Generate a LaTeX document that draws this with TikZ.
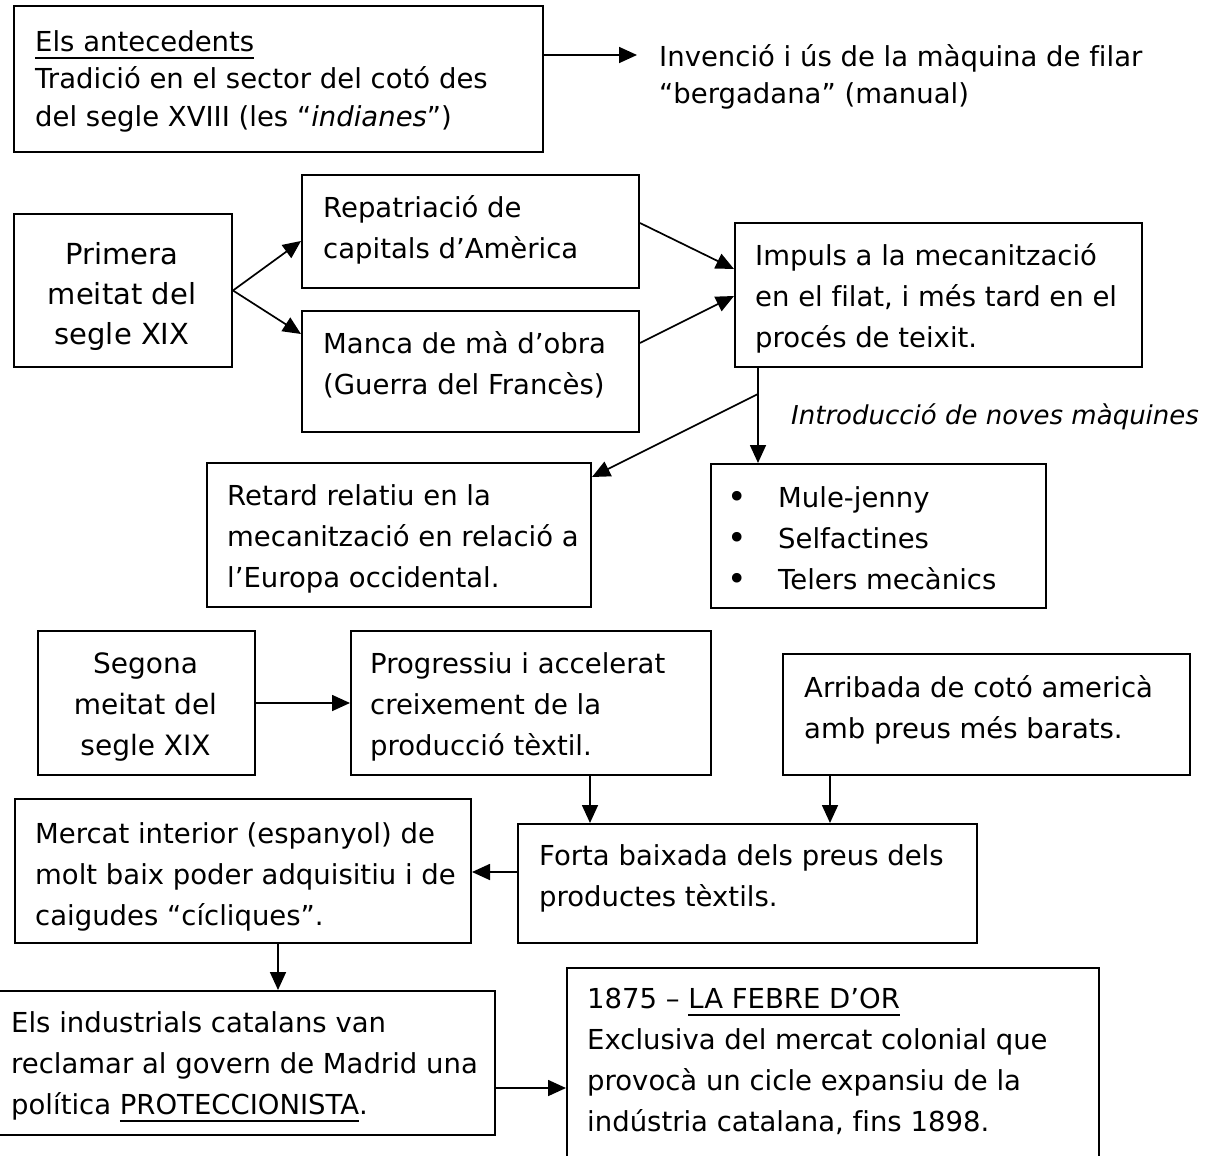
\documentclass[tikz,border=0pt]{standalone}
\usepackage{fontspec}
\setmainfont{DejaVu Sans}[Ligatures=CommonOff]
\usetikzlibrary{arrows.meta}
\newcommand\topst{\rule{0pt}{30pt}}
\newsavebox\ulbox
\newcommand\ulx[1]{\sbox\ulbox{#1}\rlap{\rule[-8pt]{\wd\ulbox}{2.2pt}}\usebox\ulbox}
\newcommand\bul{\makebox[51pt][l]{\raisebox{-1pt}{\fontsize{33}{41}\selectfont\textbullet}}}
\begin{document}
\begin{tikzpicture}[x=1pt,y=-1pt,
  bx/.style={draw,line width=2pt,inner sep=0pt,anchor=north west},
  txt/.style={inner sep=0pt,anchor=north west,align=left,font=\fontsize{27.5}{41}\selectfont},
  ctxt/.style={inner sep=0pt,anchor=north,align=center,font=\fontsize{28}{41}\selectfont},
  arr/.style={line width=1.7pt,-{Triangle[length=18pt,width=16pt]}}]
\useasboundingbox (0,0) rectangle (1210,1156);
\fill[white] (0,0) rectangle (1210,1156);
\begin{scope}
\clip (0,0) rectangle (1210,1156);
% boxes
\node[bx,minimum width=529pt,minimum height=146pt] (A) at (13,5) {};
\node[bx,minimum width=218pt,minimum height=153pt] (P) at (13,213) {};
\node[bx,minimum width=337pt,minimum height=113pt] (R) at (301,174) {};
\node[bx,minimum width=337pt,minimum height=121pt] (M) at (301,310) {};
\node[bx,minimum width=407pt,minimum height=144pt] (I) at (734,222) {};
\node[bx,minimum width=384pt,minimum height=144pt] (Re) at (206,462) {};
\node[bx,minimum width=335pt,minimum height=144pt] (Mu) at (710,463) {};
\node[bx,minimum width=217pt,minimum height=144pt] (S) at (37,630) {};
\node[bx,minimum width=360pt,minimum height=144pt] (Pg) at (350,630) {};
\node[bx,minimum width=407pt,minimum height=121pt] (Ar) at (782,653) {};
\node[bx,minimum width=459pt,minimum height=119pt] (F) at (517,823) {};
\node[bx,minimum width=456pt,minimum height=144pt] (Me) at (14,798) {};
\node[bx,minimum width=496pt,minimum height=144pt] (E) at (-2,990) {};
\node[bx,minimum width=532pt,minimum height=203pt] (L) at (566,967) {};
\end{scope}
% texts
\node[txt,font=\fontsize{27.5}{37.5}\selectfont] (At) at (35,21)
  {\topst\ulx{Els antecedents}\\Tradició en el sector del cotó des\\del segle XVIII (les “\textit{indianes}”)};
\node[txt,font=\fontsize{27.5}{37}\selectfont,inner xsep=22pt] (Bt) at (637,36)
  {\topst Invenció i ús de la màquina de filar\\“bergadana” (manual)};
\node[ctxt,font=\fontsize{29}{40}\selectfont] (Pt) at (122,234) {\topst Primera\\meitat del\\segle XIX};
\node[txt] (Rt) at (323,187) {\topst Repatriació de\\capitals d’Amèrica};
\node[txt] (Mt) at (323,323) {\topst Manca de mà d’obra\\(Guerra del Francès)};
\node[txt] (It) at (755,235) {\topst Impuls a la mecanització\\en el filat, i més tard en el\\procés de teixit.};
\node[inner sep=0pt,anchor=base west,font=\fontsize{26}{30}\selectfont\itshape] (In) at (791,424)
  {Introducció de noves màquines};
\node[txt] (Ret) at (227,475) {\topst Retard relatiu en la\\mecanització en relació a\\l’Europa occidental.};
\node[txt] (Mut) at (727,477) {\topst\bul Mule-jenny\\\bul Selfactines\\\bul Telers mecànics};
\node[ctxt] (St) at (145.5,643) {\topst Segona\\meitat del\\segle XIX};
\node[txt] (Pgt) at (370,643) {\topst Progressiu i accelerat\\creixement de la\\producció tèxtil.};
\node[txt] (Art) at (804,667) {\topst Arribada de cotó americà\\amb preus més barats.};
\node[txt] (Ft) at (539,835) {\topst Forta baixada dels preus dels\\productes tèxtils.};
\node[txt] (Met) at (35,813) {\topst Mercat interior (espanyol) de\\molt baix poder adquisitiu i de\\caigudes “cícliques”.};
\node[txt] (Et) at (11,1002) {\topst Els industrials catalans van\\reclamar al govern de Madrid una\\política \ulx{PROTECCIONISTA}.};
\node[txt] (Lt) at (587,978) {\topst 1875 – \ulx{LA FEBRE D’OR}\\Exclusiva del mercat colonial que\\provocà un cicle expansiu de la\\indústria catalana, fins 1898.};
% connectors
\draw[arr] ([yshift=24pt]A.east) -- ([yshift=24pt]A.east -| Bt.west);
\draw[arr] (P.east) -- ([yshift=-9.5pt]R.west);
\draw[arr] (P.east) -- ([yshift=37.5pt]M.west);
\draw[arr] ([yshift=8.5pt]R.east) -- ([yshift=26pt]I.west);
\draw[arr] ([yshift=28.5pt]M.east) -- ([yshift=-1pt]I.west);
\draw[arr] ([xshift=24pt]I.south west) -- ([xshift=48pt]Mu.north west);
\draw[arr] ([xshift=24pt,yshift=-26pt]I.south west) -- ([yshift=-15pt]Re.north east);
\draw[arr] (S.east) -- (Pg.west);
\draw[arr] ([xshift=240pt]Pg.south west) -- ([xshift=73pt]F.north west);
\draw[arr] ([xshift=48pt]Ar.south west) -- ([xshift=313pt]F.north west);
\draw[arr] ([yshift=11.5pt]F.west) -- ([yshift=11.5pt]F.west -| Me.east);
\draw[arr] ([xshift=264pt]Me.south west) -- ([xshift=280pt]E.north west);
\draw[arr] ([yshift=-25pt]E.east) -- ([yshift=-25pt]E.east -| L.west);
\end{tikzpicture}
\end{document}
